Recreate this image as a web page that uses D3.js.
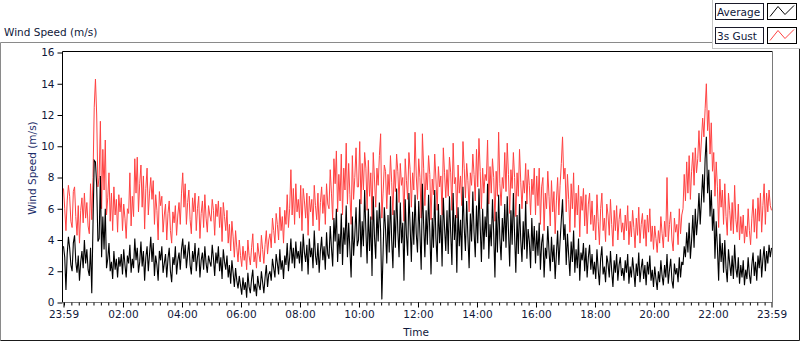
<!DOCTYPE html>
<html>
<head>
<meta charset="utf-8">
<script src="https://cdn.jsdelivr.net/npm/d3@7"></script>
<style>
  body { margin: 0; background: #fff; }
  svg { display: block; font-family: "DejaVu Sans", sans-serif; }
</style>
</head>
<body>
<div id="chart"></div>
<script>
// Datos: una muestra cada 2.5 minutos desde las 23:59 (una fila por hora)
const avgSpeed = [
  3.6,2.9,0.8,3.1,4.2,3.5,2.4,2.0,3.8,4.3,2.6,1.9,3.0,1.4,2.6,3.3,2.2,4.0,2.5,3.4,2.1,1.7,3.5,0.6,
  5.0,9.1,9.0,7.5,3.9,4.1,8.1,2.9,5.5,3.4,6.0,2.2,2.8,3.8,2.0,2.6,1.5,3.3,2.1,2.8,1.6,2.9,2.3,3.1,
  1.8,3.4,2.4,1.6,3.0,2.5,3.7,1.9,2.8,2.2,4.1,2.7,3.5,1.9,2.6,3.9,2.3,3.3,1.4,2.9,3.6,2.0,3.1,4.2,
  2.6,3.8,1.7,3.0,2.4,1.4,3.3,2.7,3.6,1.9,2.5,3.1,1.6,2.8,3.5,2.0,1.3,2.9,2.4,3.6,1.8,2.7,3.2,2.1,
  3.4,4.1,2.8,3.7,2.2,3.1,3.9,2.4,1.8,3.3,2.6,3.8,2.0,2.9,3.5,1.6,2.7,3.2,2.1,3.6,2.5,1.9,3.0,2.6,
  2.3,3.7,2.8,1.7,3.2,2.5,3.6,2.0,2.9,1.5,3.4,2.6,2.1,3.0,1.6,2.4,1.2,2.7,1.9,1.0,2.2,1.4,0.9,1.7,
  1.1,0.5,1.6,0.8,1.3,0.3,1.9,1.0,0.6,1.5,2.1,0.7,1.2,0.4,1.7,1.1,0.8,2.0,1.3,0.6,1.6,2.4,1.0,1.8,
  2.0,1.4,2.8,2.2,1.6,3.1,2.5,1.8,3.4,2.1,2.7,1.5,3.0,2.4,3.8,2.0,2.9,4.1,2.5,3.5,2.2,3.9,2.8,3.3,
  2.5,3.9,2.0,4.4,3.2,2.6,3.7,1.8,4.1,2.9,3.5,2.2,4.6,3.0,2.4,3.8,1.9,3.3,4.2,2.7,3.6,2.1,4.5,3.1,
  2.8,4.9,3.5,2.3,5.4,3.9,6.0,2.6,4.4,3.1,5.7,2.4,4.8,3.7,6.2,2.9,5.1,3.4,1.6,5.5,3.0,4.3,6.1,3.6,
  4.0,6.6,2.9,5.2,3.6,7.2,4.6,2.5,6.0,3.3,5.5,1.7,6.8,4.2,2.8,5.9,3.9,6.4,4.6,0.2,3.2,6.1,4.7,2.5,
  5.6,3.2,6.8,4.0,2.2,5.9,3.5,7.3,4.6,2.9,6.4,3.8,5.1,1.4,6.6,4.3,3.0,7.0,4.9,2.6,5.8,3.7,6.9,4.4,
  3.2,6.5,4.4,2.1,7.6,5.0,2.9,5.9,3.7,6.9,4.6,1.8,5.4,3.5,7.2,4.1,2.6,6.3,3.8,5.6,2.3,6.7,4.8,3.3,
  5.9,3.1,6.8,4.5,2.4,7.0,4.0,5.6,1.9,6.1,3.6,5.3,2.7,7.4,4.8,3.3,6.5,4.2,2.2,5.7,3.9,7.1,4.5,2.9,
  6.2,3.8,7.3,4.9,2.6,6.0,3.4,5.5,4.2,7.6,2.8,5.0,3.6,6.6,4.4,1.6,5.8,3.2,6.9,4.1,2.7,5.4,3.9,6.3,
  3.5,6.8,4.6,2.3,5.9,3.7,7.0,4.3,1.9,5.6,3.1,6.3,4.0,2.6,5.2,3.4,6.5,2.8,4.7,3.9,2.2,5.4,3.3,4.9,
  2.5,4.6,3.0,5.1,2.1,3.8,4.4,1.6,3.5,2.8,4.9,3.3,2.0,4.2,2.6,3.7,1.5,3.1,4.6,2.4,3.9,5.3,6.6,4.0,
  5.0,2.4,4.4,3.0,1.7,3.9,2.6,4.6,1.9,3.4,2.2,4.1,1.4,3.2,2.7,3.8,2.0,3.5,1.6,2.9,3.7,2.1,3.1,1.8,
  2.6,1.5,3.4,2.1,1.1,2.8,3.6,1.8,2.3,1.3,3.0,2.5,1.6,3.3,2.0,1.0,2.7,1.9,3.1,1.4,2.4,2.9,1.7,2.2,
  1.4,2.7,1.9,3.1,1.2,2.3,1.6,2.9,2.0,1.0,2.5,1.7,3.2,1.3,2.2,2.8,1.5,2.4,1.1,2.6,1.8,3.0,1.4,2.1,
  1.0,2.3,1.5,0.8,2.0,1.3,2.7,1.7,1.1,2.4,1.6,3.1,1.2,2.1,2.8,1.4,0.9,2.5,1.8,2.2,1.3,2.9,1.6,2.6,
  2.4,3.6,2.9,4.5,3.2,5.1,2.8,4.0,5.6,3.5,6.0,4.3,5.4,7.0,5.0,6.6,8.2,6.4,9.2,10.6,7.0,8.5,5.5,7.2,
  4.6,6.0,2.8,5.2,3.5,1.4,4.4,2.6,3.8,1.9,4.0,2.2,1.3,3.4,2.5,1.7,3.0,1.5,3.7,2.2,1.6,2.9,1.2,2.4,
  1.6,2.7,1.1,2.1,1.5,2.9,1.8,1.2,2.4,3.2,1.7,2.6,1.4,3.0,2.2,3.4,1.6,2.8,3.6,2.0,3.3,2.5,3.7,2.9,
  3.5
];

const gustSpeed = [
  7.3,6.0,4.6,6.5,7.5,6.8,5.2,4.8,7.1,7.4,5.5,4.3,6.2,3.8,5.9,6.7,5.1,7.0,5.4,6.4,4.9,4.4,7.6,5.3,
  8.0,12.5,14.3,12.0,7.4,8.0,11.6,6.0,9.8,7.2,10.4,5.6,6.7,8.3,5.2,7.0,4.6,7.4,5.6,6.6,4.5,6.9,5.8,6.7,
  4.6,6.3,5.4,4.1,6.0,5.7,8.3,4.9,6.8,5.5,9.2,7.0,9.3,5.8,7.6,8.8,6.1,8.1,4.7,7.3,8.6,5.6,7.0,8.0,
  6.6,7.8,5.0,6.9,5.9,4.0,7.1,6.2,6.8,4.5,5.6,6.3,4.0,5.7,6.5,4.6,3.8,5.8,5.1,6.2,4.3,5.6,6.4,5.0,
  7.0,8.3,6.1,7.6,5.0,6.4,7.2,5.3,4.4,6.7,5.8,7.0,4.6,6.0,6.8,4.1,5.7,6.5,4.8,6.9,5.4,4.5,6.2,5.6,
  5.2,6.6,5.9,4.3,6.3,5.5,6.5,4.8,6.1,3.9,6.4,5.5,4.6,5.9,3.8,5.0,3.3,5.2,4.2,2.9,4.6,3.5,2.6,4.0,
  3.0,2.3,3.6,2.7,3.3,2.1,4.0,3.0,2.4,3.5,4.4,2.6,3.2,2.2,3.8,3.1,2.6,4.3,3.4,2.5,3.7,4.6,3.1,4.0,
  4.4,3.5,5.4,4.6,3.8,5.7,5.0,4.0,6.1,4.6,5.5,3.8,5.9,5.0,6.9,4.8,6.0,8.5,5.6,7.3,5.0,7.6,5.8,6.6,
  5.4,7.5,4.6,7.3,6.5,5.4,7.0,4.3,6.8,5.8,6.6,4.9,7.5,6.2,5.3,7.0,4.6,6.4,7.4,5.7,6.9,5.0,7.6,6.3,
  6.0,8.5,7.0,5.3,9.2,7.6,9.7,5.8,8.2,6.5,9.5,5.6,8.6,7.2,10.2,6.3,8.9,6.9,5.0,9.4,6.6,8.0,9.9,7.4,
  7.4,10.3,6.3,8.9,7.2,9.6,8.6,5.9,9.1,6.8,8.3,5.3,9.6,7.9,6.1,8.6,7.5,9.4,10.8,5.4,7.0,8.8,8.4,6.0,
  8.2,6.9,9.4,7.7,5.6,8.5,7.1,9.5,8.4,6.4,8.9,7.5,8.0,5.2,9.2,7.8,6.6,9.6,8.5,6.1,8.3,7.2,10.9,8.1,
  6.6,9.2,8.0,5.4,10.8,8.6,6.2,8.3,7.2,9.4,8.2,5.3,7.9,6.9,9.5,7.9,5.9,8.7,7.4,8.1,5.6,9.9,8.3,6.7,
  8.5,6.8,9.3,8.3,5.9,10.2,7.6,8.0,5.4,8.8,7.0,8.1,6.2,10.3,8.6,6.7,8.9,7.8,5.8,8.3,7.5,9.5,8.2,6.5,
  9.8,7.4,10.5,8.4,6.0,8.6,7.0,8.2,7.8,10.4,6.3,8.7,7.0,9.2,8.0,5.2,8.4,6.8,10.9,7.6,6.2,8.0,7.3,9.6,
  7.1,10.2,8.2,5.7,8.5,7.3,9.6,8.0,5.5,8.3,6.8,9.8,7.7,6.0,7.8,7.0,8.9,6.3,8.5,7.5,5.6,7.9,6.9,8.6,
  5.6,8.1,6.2,8.6,5.0,7.4,8.0,4.6,7.0,6.0,8.4,6.8,4.9,7.8,5.8,7.1,4.4,6.5,8.0,5.6,7.5,8.9,10.6,7.9,
  8.6,5.8,8.2,6.6,4.5,7.6,6.0,8.3,4.8,7.0,5.6,7.5,4.2,6.8,5.9,7.3,4.9,6.9,4.4,6.3,7.0,5.0,6.5,4.6,
  5.6,4.0,6.9,5.2,3.7,6.0,7.0,4.6,5.4,3.9,6.3,5.6,4.3,6.6,5.0,3.6,5.9,4.6,6.2,4.0,5.3,6.0,4.5,5.1,
  4.0,5.6,4.6,6.2,3.7,5.2,4.2,5.9,4.8,3.5,5.4,4.3,6.1,3.8,5.0,5.7,4.1,5.3,3.6,5.6,4.5,6.0,3.9,4.9,
  3.4,4.9,4.1,3.2,4.6,3.8,5.5,4.4,3.5,5.2,4.2,8.0,3.9,5.0,5.8,4.0,3.3,5.4,4.5,5.0,3.7,6.0,4.4,5.6,
  6.0,8.2,6.5,9.0,7.0,9.4,6.6,8.4,9.6,7.5,9.9,8.3,9.2,11.0,9.0,10.4,11.8,10.6,12.4,14.0,11.0,12.3,9.5,11.5,
  8.4,9.6,6.8,9.0,7.4,4.8,7.9,6.1,7.2,5.0,7.6,5.5,4.3,7.0,5.9,4.6,6.4,4.4,7.5,5.3,4.5,6.3,4.0,5.5,
  4.4,5.6,3.8,4.9,4.2,6.0,4.6,3.7,5.4,6.6,4.5,6.0,4.1,6.7,5.2,7.0,4.5,6.2,7.6,5.0,7.0,5.8,7.2,6.2,
  5.9
];

const seriesNames = ["Average", "3s Gust"];
const seriesColors = ["#000000", "#ff4242"];
const yTicks = [0, 2, 4, 6, 8, 10, 12, 14, 16];
const xTickLabels = ["23:59","02:00","04:00","06:00","08:00","10:00","12:00",
                     "14:00","16:00","18:00","20:00","22:00","23:59"];

const width = 800;
const height = 342;
const stepMinutes = 2.5;
const startTime = new Date(2000, 0, 1, 23, 59);
const endTime = d3.timeMinute.offset(startTime, 24 * 60);

const svg = d3.select("#chart")
  .append("svg")
  .attr("width", width)
  .attr("height", height);

// Marco del panel
svg.append("path")
  .attr("d", "M0.5,340.5 V42.5 H712")
  .attr("fill", "none").attr("stroke", "#8a8a8a");
svg.append("path")
  .attr("d", "M0.5,340.5 H799.5 V40")
  .attr("fill", "none").attr("stroke", "#1a1a1a");

svg.append("text")
  .attr("x", 4).attr("y", 36)
  .attr("font-size", "10.5px")
  .attr("fill", "#10183a")
  .text("Wind Speed (m/s)");

// Escalas
const x = d3.scaleTime()
  .domain([startTime, endTime])
  .range([63.5, 771.5]);

const y = d3.scaleLinear()
  .domain([0, 16])
  .range([302.5, 52.5]);

const times = avgSpeed.map((d, i) => new Date(startTime.getTime() + i * stepMinutes * 60000));

// Área de trazado
svg.append("rect")
  .attr("x", 62.5).attr("y", 51.5)
  .attr("width", 710).attr("height", 251)
  .attr("fill", "#fff");

const line = d3.line()
  .x((d, i) => x(times[i]))
  .y(d => y(d));

svg.append("path")
  .datum(gustSpeed)
  .attr("d", line)
  .attr("fill", "none")
  .attr("stroke", seriesColors[1])
  .attr("stroke-width", 1);

svg.append("path")
  .datum(avgSpeed)
  .attr("d", line)
  .attr("fill", "none")
  .attr("stroke", seriesColors[0])
  .attr("stroke-width", 1.1);

// Bordes del área (hundido)
svg.append("path")
  .attr("d", "M62.5,302.5 V51.5 H772.5")
  .attr("fill", "none").attr("stroke", "#000");
svg.append("path")
  .attr("d", "M62.5,302.5 H772.5 V51.5")
  .attr("fill", "none").attr("stroke", "#7a7a7a");

// Eje Y
const yAxis = svg.append("g")
  .attr("transform", "translate(62.5,0)")
  .call(d3.axisLeft(y).tickValues(yTicks).tickSize(5).tickPadding(3));
yAxis.select(".domain").remove();
yAxis.selectAll("line").attr("stroke", "#000");
yAxis.selectAll("text")
  .attr("font-family", "DejaVu Sans")
  .attr("font-size", "10.5px")
  .attr("fill", "#10183a");

svg.append("text")
  .attr("transform", "translate(36,168) rotate(-90)")
  .attr("text-anchor", "middle")
  .attr("font-size", "10.5px")
  .attr("fill", "#1c2d6a")
  .text("Wind Speed (m/s)");

// Eje X: marcas menores cada 15 min
const minorTicks = d3.timeMinute.every(15).range(startTime, endTime);
const xMinor = svg.append("g")
  .attr("transform", "translate(0,302.5)")
  .call(d3.axisBottom(x).tickValues(minorTicks).tickSize(3).tickFormat(""));
xMinor.select(".domain").remove();
xMinor.selectAll("line").attr("stroke", "#000");

const majorTicks = xTickLabels.map((lbl, i) => {
  if (i === 0) return startTime;
  if (i === xTickLabels.length - 1) return endTime;
  return new Date(2000, 0, 2, i * 2, 0);
});
const xAxis = svg.append("g")
  .attr("transform", "translate(0,302.5)")
  .call(d3.axisBottom(x)
    .tickValues(majorTicks)
    .tickSize(5)
    .tickPadding(3)
    .tickFormat((d, i) => xTickLabels[i]));
xAxis.select(".domain").remove();
xAxis.selectAll("line").attr("stroke", "#000");
xAxis.selectAll("text")
  .attr("font-family", "DejaVu Sans")
  .attr("font-size", "10.5px")
  .attr("fill", "#10183a");

svg.append("text")
  .attr("x", 416).attr("y", 336)
  .attr("text-anchor", "middle")
  .attr("font-size", "10.5px")
  .attr("fill", "#10183a")
  .text("Time");

// Leyenda
const legend = svg.append("g");
legend.append("rect")
  .attr("x", 712.5).attr("y", -1)
  .attr("width", 90).attr("height", 49.5)
  .attr("fill", "#fff")
  .attr("stroke", "#c4c4c4");

seriesNames.forEach((name, i) => {
  const top = 3.5 + i * 24;
  legend.append("rect")
    .attr("x", 715.5).attr("y", top)
    .attr("width", 48).attr("height", 16)
    .attr("fill", "#fff").attr("stroke", "#1a1a2a");
  legend.append("text")
    .attr("x", 717).attr("y", top + 12)
    .attr("font-size", "10.5px")
    .attr("fill", "#10183a")
    .text(name);
  legend.append("rect")
    .attr("x", 767.5).attr("y", top)
    .attr("width", 29).attr("height", 16)
    .attr("fill", "#fff").attr("stroke", "#000");
  legend.append("path")
    .attr("d", `M770,${top + 13} L778,${top + 3} L785,${top + 11} L794,${top + 2}`)
    .attr("fill", "none")
    .attr("stroke", seriesColors[i]);
});
</script>
</body>
</html>
